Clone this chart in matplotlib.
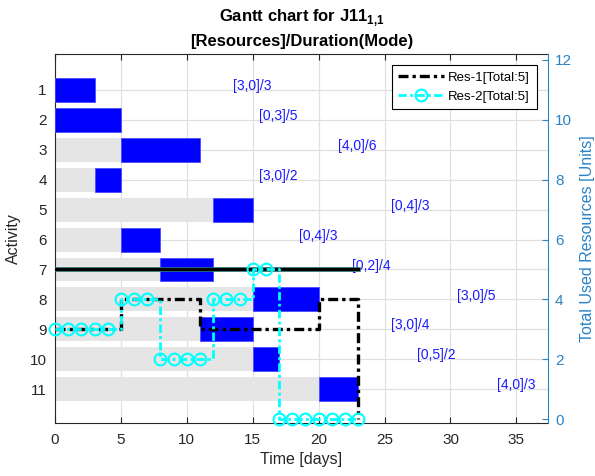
import matplotlib
matplotlib.use('Agg')
import matplotlib.pyplot as plt

plt.rcParams['font.family'] = ['Liberation Sans', 'DejaVu Sans']
plt.rcParams['mathtext.fontset'] = 'custom'
plt.rcParams['mathtext.rm'] = 'Liberation Sans'
plt.rcParams['mathtext.bf'] = 'Liberation Sans:bold'

# ---- data ----
activities = [1, 2, 3, 4, 5, 6, 7, 8, 9, 10, 11]
starts = [0, 0, 5, 3, 12, 5, 8, 15, 11, 15, 20]
durations = [3, 5, 6, 2, 3, 3, 4, 5, 4, 2, 3]
res1_demand = [3, 0, 4, 3, 0, 0, 0, 3, 3, 0, 4]
res2_demand = [0, 3, 0, 0, 4, 4, 2, 0, 0, 5, 0]
capacity = 5
makespan = 23

time_days = list(range(0, 24))
res1_usage = [3, 3, 3, 3, 3, 4, 4, 4, 4, 4, 4, 3, 3, 3, 3, 3, 3, 3, 3, 3, 4, 4, 4, 0]
res2_usage = [3, 3, 3, 3, 3, 4, 4, 4, 2, 2, 2, 2, 4, 4, 4, 5, 5, 0, 0, 0, 0, 0, 0, 0]

x_ticks = [0, 5, 10, 15, 20, 25, 30, 35]
right_ticks = [0, 2, 4, 6, 8, 10, 12]
legend_labels = ['Res-1[Total:5]', 'Res-2[Total:5]']

RIGHT_COLOR = '#2a83c6'

fig = plt.figure(figsize=(5.95, 4.76), dpi=100)
ax = fig.add_axes([55 / 595, 1 - 423 / 476, (548 - 55) / 595, (423 - 54) / 476])

ax.barh(activities, starts, left=0, height=0.8, color='#e5e5e5', zorder=2)
ax.barh(activities, durations, left=starts, height=0.8, color='#0000ff',
        edgecolor='#4a4aff', linewidth=0.6, zorder=3)

for a, s, d, r1, r2 in zip(activities, starts, durations, res1_demand, res2_demand):
    ax.text(s + d + 10.5, a - 0.13, f'[{r1},{r2}]/{d}', color='#1a1aff',
            fontsize=10, ha='left', va='center', zorder=4)

ax.set_xlim(0, 37.4)
ax.set_ylim(12.13, -0.2)
ax.set_xticks(x_ticks)
ax.set_yticks(activities)
ax.grid(True, color='#e0e0e0', linewidth=0.9)
ax.set_axisbelow(True)
ax.tick_params(axis='both', direction='in', labelsize=11, length=4, width=0.8,
               colors='#262626', top=True, right=False)
ax.tick_params(axis='x', pad=7)
ax.tick_params(axis='y', pad=6)
for side in ['left', 'bottom', 'top']:
    ax.spines[side].set_color('#262626')
    ax.spines[side].set_linewidth(0.8)
ax.spines['right'].set_visible(False)
ax.set_xlabel('Time [days]', fontsize=11.5, color='#262626', labelpad=4)
ax.set_ylabel('Activity', fontsize=11.5, color='#262626', labelpad=6)
ax.set_title('Gantt chart for J11$_{\\mathbf{1{,}1}}$\n[Resources]/Duration(Mode)',
             fontsize=12, fontweight='bold', pad=6, linespacing=1.45)

ax2 = ax.twinx()
ax2.plot([0, makespan], [capacity, capacity], color='#2f7373', lw=3.4, zorder=2)
ax2.plot([0, makespan], [capacity, capacity], color='black', lw=2.2, zorder=2)
ax2.plot(time_days, res1_usage, drawstyle='steps-post', color='black', lw=2.4,
         ls=(0, (3, 1.2, 1, 1.2)), label=legend_labels[0], zorder=3, clip_on=False)
ax2.plot(time_days, res2_usage, drawstyle='steps-post', color='#00ffff', lw=2.0,
         ls=(0, (3, 1.2, 1, 1.2)), marker='o', ms=8.5, mfc='none', mew=1.5,
         label=legend_labels[1], zorder=4, clip_on=False)
ax2.set_ylim(-0.13, 12.2)
ax2.set_yticks(right_ticks)
ax2.tick_params(axis='y', direction='in', labelsize=11, length=4, width=0.8,
                colors=RIGHT_COLOR, pad=5)
ax2.spines['right'].set_color(RIGHT_COLOR)
ax2.spines['right'].set_linewidth(0.8)
for side in ['left', 'bottom', 'top']:
    ax2.spines[side].set_visible(False)
ax2.set_ylabel('Total Used Resources [Units]', fontsize=11.5, color=RIGHT_COLOR, labelpad=6)

leg = ax2.legend(loc='upper right', fontsize=9.5, fancybox=False, framealpha=1,
                 edgecolor='black', borderaxespad=0.85, handlelength=3.5,
                 labelspacing=0.5, borderpad=0.5, handletextpad=0.3)
leg.get_frame().set_linewidth(0.8)

fig.savefig('out.png', dpi=100)
